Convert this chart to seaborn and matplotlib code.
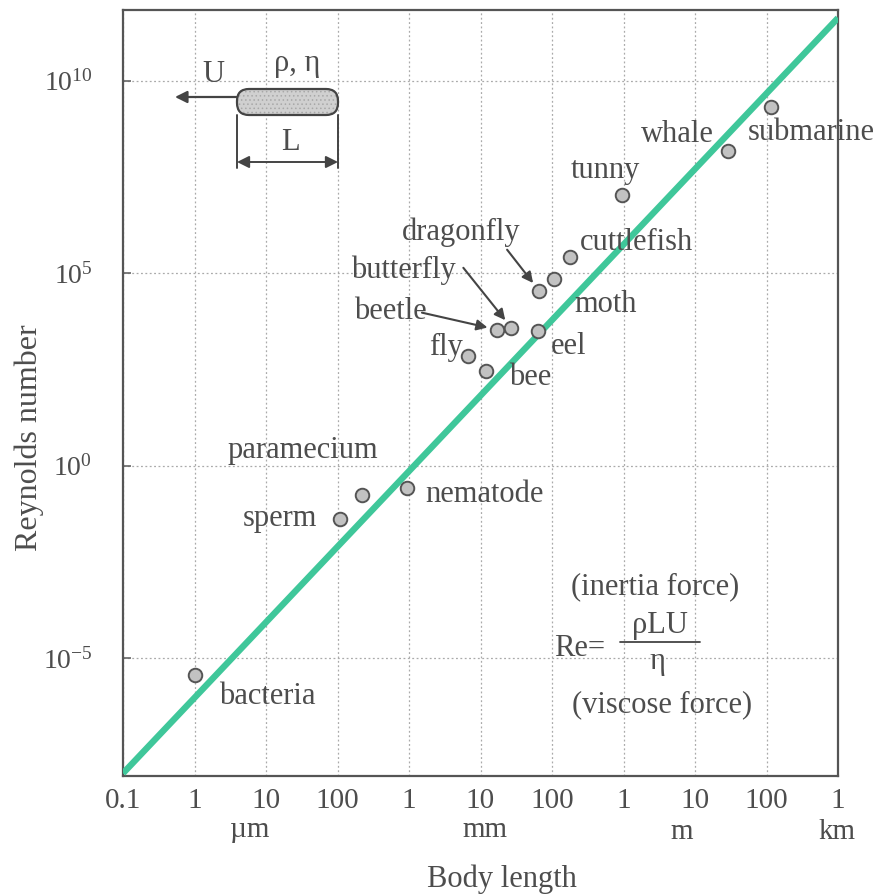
import numpy as np
import pandas as pd
import matplotlib
matplotlib.use("Agg")
import matplotlib.pyplot as plt
import seaborn as sns
from matplotlib.patches import FancyBboxPatch
from matplotlib.lines import Line2D
from matplotlib.ticker import NullLocator

# ---------------- data ----------------
species = ["bacteria", "sperm", "paramecium", "nematode", "fly", "bee", "beetle",
           "butterfly", "eel", "dragonfly", "moth", "cuttlefish", "tunny", "whale",
           "submarine"]
body_length_m = [1.0e-6, 1.1e-4, 2.2e-4, 9.5e-4, 6.6e-3, 1.2e-2, 1.7e-2,
                 2.7e-2, 6.3e-2, 6.6e-2, 0.107, 0.18, 0.95, 29.0, 115.0]
reynolds = [3.6e-6, 0.041, 0.17, 0.26, 710, 290, 3400,
            3800, 3200, 3.5e4, 7.1e4, 2.6e5, 1.07e7, 1.5e8, 2.1e9]

trend_length_m = [1e-7, 1e3]
trend_reynolds = [1e-8, 4.3e11]

x_ticks = [1e-7, 1e-6, 1e-5, 1e-4, 1e-3, 1e-2, 1e-1, 1e0, 1e1, 1e2, 1e3]
x_tick_labels = ["0.1", "1", "10", "100", "1", "10", "100", "1", "10", "100", "1"]
unit_labels = ["\u00b5m", "mm", "m", "km"]
y_ticks = [1e-5, 1e0, 1e5, 1e10]
y_tick_labels = ["$10^{-5}$", "$10^{0}$", "$10^{5}$", "$10^{10}$"]

# ---------------- layout (pixels) ----------------
W, H = 890, 894
def fp(x, y):
    return (x / W, 1 - y / H)

# label offsets from point in pixels (dx, dy, ha)
label_layout = {
    "bacteria": (25, 22, "left"),
    "sperm": (-23, 0, "right"),
    "paramecium": (-59, -45, "center"),
    "nematode": (18, 6, "left"),
    "fly": (-5, -8, "right"),
    "bee": (23, 7, "left"),
    "eel": (13, 16, "left"),
    "moth": (20, 26, "left"),
    "cuttlefish": (10, -15, "left"),
    "tunny": (-16, -25, "center"),
    "whale": (-14, -16, "right"),
    "submarine": (-23, 26, "left"),
    "dragonfly": (-78, -58, "center"),
    "butterfly": (-108, -58, "center"),
    "beetle": (-107, -18, "center"),
}
arrow_layout = {
    "dragonfly": (-32, -41),
    "butterfly": (-48, -60),
    "beetle": (-75, -17),
}

# ---------------- style ----------------
sns.set_theme(style="white")
plt.rcParams["font.family"] = ["Liberation Serif", "DejaVu Serif"]
plt.rcParams["mathtext.fontset"] = "custom"
plt.rcParams["mathtext.rm"] = "Liberation Serif"
plt.rcParams["mathtext.it"] = "Liberation Serif:italic"
plt.rcParams["hatch.linewidth"] = 0.6

TXT = "#4d4d4d"
DARK = "#444444"
GREEN = "#3fc79a"

fig = plt.figure(figsize=(W / 100, H / 100), dpi=100)
ax = fig.add_axes([123 / W, 1 - 776 / H, (838 - 123) / W, (776 - 10) / H])

df = pd.DataFrame({"species": species, "length": body_length_m, "Re": reynolds})
trend = pd.DataFrame({"length": trend_length_m, "Re": trend_reynolds})

ax.set_xscale("log")
ax.set_yscale("log")

sns.lineplot(data=trend, x="length", y="Re", ax=ax, color=GREEN, lw=4.6,
             zorder=3, solid_capstyle="butt")
sns.scatterplot(data=df, x="length", y="Re", ax=ax, s=95, color="#c2c2c2",
                edgecolor="#555555", linewidth=1.4, zorder=4)

ax.set_xlim(1e-7, 1e3)
ax.set_ylim(10 ** -8.07, 10 ** 11.84)
ax.set_xticks(x_ticks)
ax.set_xticklabels(x_tick_labels)
ax.set_yticks(y_ticks)
ax.set_yticklabels(y_tick_labels)
ax.xaxis.set_minor_locator(NullLocator())
ax.yaxis.set_minor_locator(NullLocator())
ax.tick_params(axis="x", length=0, pad=9, labelsize=21, labelcolor=TXT)
ax.tick_params(axis="y", direction="in", length=6, width=1.2, color="#666666",
               pad=22, labelsize=20, labelcolor=TXT, left=True)
ax.grid(True, ls=(0, (1.5, 2)), color="#aaaaaa", lw=0.9)
for sp in ax.spines.values():
    sp.set_color("#555555")
    sp.set_linewidth(1.6)

ax.set_xlabel("Body length", fontsize=22, color=TXT)
ax.set_ylabel("Reynolds number", fontsize=23, color=TXT)
ax.xaxis.set_label_coords((502 - 123) / 715, (776 - 864) / 766)
ax.yaxis.set_label_coords((44 - 123) / 715, (776 - 438) / 766)

# species labels
for name, lx, ry in zip(species, body_length_m, reynolds):
    dx, dy, ha = label_layout[name]
    ax.annotate(name, xy=(lx, ry), xytext=(dx * 0.72, -dy * 0.72),
                textcoords="offset points", ha=ha, va="center",
                fontsize=22, color=TXT, zorder=5, annotation_clip=False)
    if name in arrow_layout:
        tx, ty = arrow_layout[name]
        ax.annotate("", xy=(lx, ry), xytext=(tx * 0.72, -ty * 0.72),
                    textcoords="offset points",
                    arrowprops=dict(arrowstyle="-|>", color=DARK, lw=1.5,
                                    mutation_scale=16, shrinkA=0, shrinkB=7))

# unit labels
unit_pos = [(250, 830), (485, 830), (682, 832), (837, 832)]
for u, (px, py) in zip(unit_labels, unit_pos):
    fig.text(*fp(px, py), u, ha="center", va="center", fontsize=21, color=TXT)

# formula
fig.text(*fp(655, 587), "(inertia force)", ha="center", va="center", fontsize=22, color=TXT)
fig.text(*fp(580, 648), "Re=", ha="center", va="center", fontsize=22, color=TXT)
fig.text(*fp(660, 626), "\u03c1LU", ha="center", va="center", fontsize=22, color=TXT)
fig.add_artist(Line2D([620 / W, 700 / W], [1 - 642 / H, 1 - 642 / H], color=DARK, lw=1.3))
fig.text(*fp(657, 662), "\u03b7", ha="center", va="center", fontsize=22, color=TXT)
fig.text(*fp(662, 705), "(viscose force)", ha="center", va="center", fontsize=22, color=TXT)

# inset diagram
x0, y0 = fp(237, 115)
bw, bh = (338 - 237) / W, (115 - 89) / H
fig.add_artist(FancyBboxPatch((x0, y0), bw, bh,
                              boxstyle="round,pad=0,rounding_size=0.0135",
                              transform=fig.transFigure, fc="#d0d0d0",
                              ec="#a8a8a8", lw=0, hatch="....", zorder=5))
fig.add_artist(FancyBboxPatch((x0, y0), bw, bh,
                              boxstyle="round,pad=0,rounding_size=0.0135",
                              transform=fig.transFigure, fc="none",
                              ec=DARK, lw=1.6, zorder=6))
ax.annotate("", xy=fp(175, 97), xytext=fp(237, 97), xycoords="figure fraction",
            textcoords="figure fraction",
            arrowprops=dict(arrowstyle="-|>", color=DARK, lw=1.6,
                            mutation_scale=18, shrinkA=0, shrinkB=0))
fig.add_artist(Line2D([237 / W, 237 / W], [1 - 115 / H, 1 - 168 / H], color=DARK, lw=1.4))
fig.add_artist(Line2D([338 / W, 338 / W], [1 - 115 / H, 1 - 168 / H], color=DARK, lw=1.4))
ax.annotate("", xy=fp(237, 162), xytext=fp(338, 162), xycoords="figure fraction",
            textcoords="figure fraction",
            arrowprops=dict(arrowstyle="<|-|>", color=DARK, lw=1.4,
                            mutation_scale=18, shrinkA=0, shrinkB=0))
fig.text(*fp(213, 75), "U", ha="center", va="center", fontsize=22, color=TXT)
fig.text(*fp(297, 63), "\u03c1, \u03b7", ha="center", va="center", fontsize=22, color=TXT)
fig.text(*fp(290, 143), "L", ha="center", va="center", fontsize=22, color=TXT)

fig.savefig("out.png", dpi=100)
